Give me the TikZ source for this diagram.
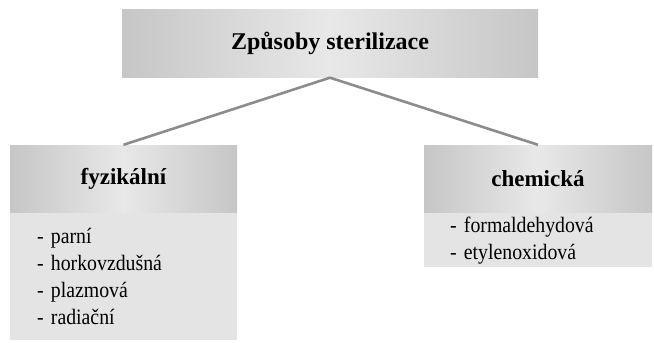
\documentclass[tikz,border=0pt]{standalone}
\usepackage{fontspec}
\setmainfont{Liberation Serif}
\newfontfamily\listfont[FakeStretch=0.9]{Liberation Serif}
\tikzset{
  headbox/.style={left color=headgray, right color=headgray, middle color=headlight,
    minimum height=68pt, inner sep=0pt, font=\fontsize{23}{26}\selectfont\bfseries},
  listbox/.style={fill=bodygray, inner sep=0pt, align=left, anchor=north,
    font=\listfont\fontsize{22}{27}\selectfont},
  link/.style={draw=linegray, line width=2.6pt}
}
\definecolor{headgray}{HTML}{C6C6C6}
\definecolor{headlight}{HTML}{E8E8E9}
\definecolor{bodygray}{HTML}{E4E4E5}
\definecolor{linegray}{HTML}{8C8C8C}
\begin{document}
\begin{tikzpicture}[x=1pt,y=-1pt]
  \useasboundingbox (0,0) rectangle (654,343);

  \begin{scope}[every node/.style={headbox}]
    \node (top)  [minimum width=416pt, font=\fontsize{24}{28}\selectfont\bfseries] at (330,43.5) {Způsoby sterilizace};
    \node (fyz)  [minimum width=227pt] at (123.5,179) {fyzikální};
    \node (chem) [minimum width=228pt] at (538,179) {chemická};
  \end{scope}

  \node (fyzlist)  [listbox, minimum width=227pt, minimum height=127pt, text width=173pt] at (fyz.south)
    {- parní\\- horkovzdušná\\- plazmová\\- radiační};
  \node (chemlist) [listbox, minimum width=228pt, minimum height=54pt, text width=176pt] at (chem.south)
    {- formaldehydová\\- etylenoxidová};

  \path (top.south) edge[link] (fyz.north);
  \path (top.south) edge[link] (chem.north);

\end{tikzpicture}
\end{document}
